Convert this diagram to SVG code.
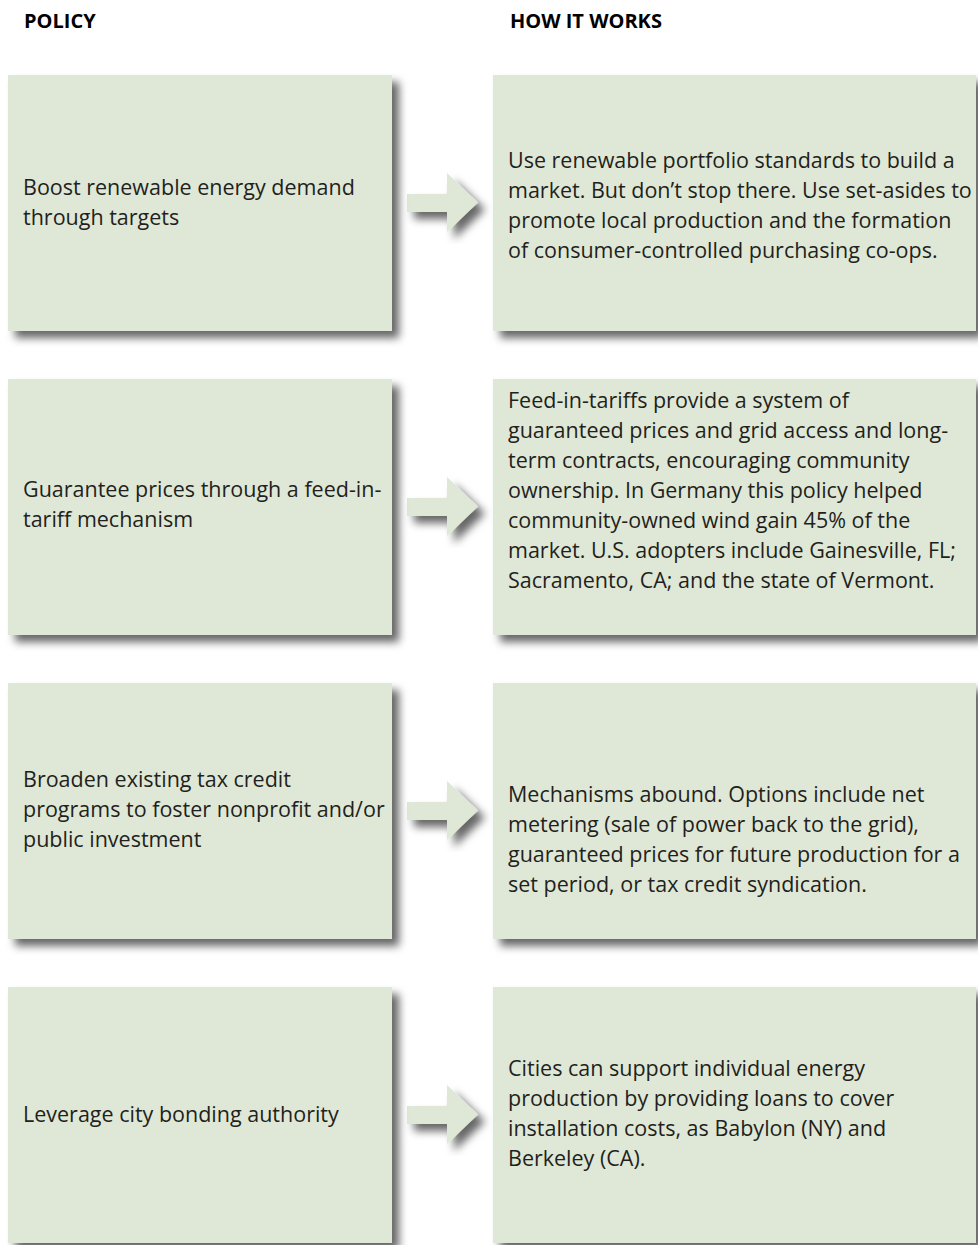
<svg xmlns="http://www.w3.org/2000/svg" width="978" height="1245" viewBox="0 0 978 1245">
<defs>
<filter id="sh" x="-10%" y="-10%" width="130%" height="130%">
<feDropShadow dx="7" dy="7" stdDeviation="4.5" flood-color="#000" flood-opacity="0.6"/>
</filter>
<path id="arr" d="M0,-9 H40 V-30 L71,-0.5 L40,29 V9 H0 Z"/>
</defs>
<style>
.box{fill:#dfe8d6;filter:url(#sh)}
.arrow{fill:#dfe8d6;filter:url(#sh)}
text{font-family:"Open Sans","Noto Sans","Liberation Sans",sans-serif;font-size:21.5px;fill:#231f20}
.hd{font-weight:bold;font-size:20px;fill:#000}
</style>
<rect width="978" height="1245" fill="#fff"/>
<text class="hd" x="24" y="28">POLICY</text>
<text class="hd" x="510" y="28">HOW IT WORKS</text>
<g id="connectors">
<use href="#arr" class="arrow" x="407" y="203"/>
<use href="#arr" class="arrow" x="407" y="507"/>
<use href="#arr" class="arrow" x="407" y="811"/>
<use href="#arr" class="arrow" x="407" y="1115"/>
</g>
<g id="policy1"><rect class="box" x="8" y="75" width="384" height="256"/>
<text x="23" y="195">Boost renewable energy demand</text><text x="23" y="225">through targets</text></g>
<g id="how1"><rect class="box" x="493" y="75" width="483" height="256"/>
<text x="508" y="168">Use renewable portfolio standards to build a</text>
<text x="508" y="198">market. But don’t stop there. Use set-asides to</text>
<text x="508" y="228">promote local production and the formation</text>
<text x="508" y="258">of consumer-controlled purchasing co-ops.</text></g>
<g id="policy2"><rect class="box" x="8" y="379" width="384" height="256"/>
<text x="23" y="497">Guarantee prices through a feed-in-</text><text x="23" y="527">tariff mechanism</text></g>
<g id="how2"><rect class="box" x="493" y="379" width="483" height="256"/>
<text x="508" y="408">Feed-in-tariffs provide a system of</text>
<text x="508" y="438">guaranteed prices and grid access and long-</text>
<text x="508" y="468">term contracts, encouraging community</text>
<text x="508" y="498">ownership. In Germany this policy helped</text>
<text x="508" y="528">community-owned wind gain 45% of the</text>
<text x="508" y="558">market. U.S. adopters include Gainesville, FL;</text>
<text x="508" y="588">Sacramento, CA; and the state of Vermont.</text></g>
<g id="policy3"><rect class="box" x="8" y="683" width="384" height="256"/>
<text x="23" y="787">Broaden existing tax credit</text><text x="23" y="817">programs to foster nonprofit and/or</text><text x="23" y="847">public investment</text></g>
<g id="how3"><rect class="box" x="493" y="683" width="483" height="256"/>
<text x="508" y="802">Mechanisms abound. Options include net</text>
<text x="508" y="832">metering (sale of power back to the grid),</text>
<text x="508" y="862">guaranteed prices for future production for a</text>
<text x="508" y="892">set period, or tax credit syndication.</text></g>
<g id="policy4"><rect class="box" x="8" y="987" width="384" height="256"/>
<text x="23" y="1122">Leverage city bonding authority</text></g>
<g id="how4"><rect class="box" x="493" y="987" width="483" height="256"/>
<text x="508" y="1076">Cities can support individual energy</text>
<text x="508" y="1106">production by providing loans to cover</text>
<text x="508" y="1136">installation costs, as Babylon (NY) and</text>
<text x="508" y="1166">Berkeley (CA).</text></g>
</svg>
